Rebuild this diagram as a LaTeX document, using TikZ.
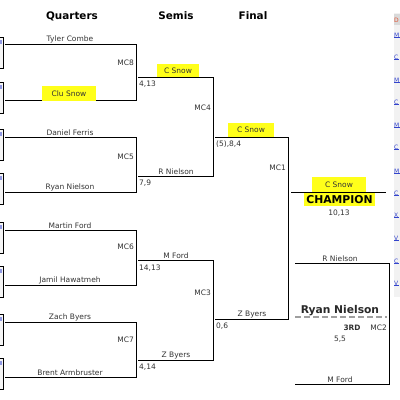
\documentclass[tikz,border=0pt]{standalone}
\usepackage{fontspec}
\setmainfont{DejaVu Sans}
\definecolor{txt}{HTML}{333333}
\definecolor{hl}{HTML}{FFFF1A}
\definecolor{lnk}{HTML}{3344CC}
\definecolor{redl}{HTML}{E05030}
\tikzset{
 ln/.style={line width=0.9pt, black, line join=miter},
 nm/.style={font=\fontsize{7.5}{8}\selectfont, text=txt, inner sep=1pt},
 mc/.style={font=\fontsize{7.5}{8}\selectfont, text=txt, inner sep=0pt, anchor=east},
 sc/.style={font=\fontsize{7.5}{8}\selectfont, text=txt, inner sep=0pt, anchor=west},
 hd/.style={font=\bfseries\fontsize{10.4}{12}\selectfont, text=black, inner sep=0pt},
 hlt/.style={fill=hl, inner sep=0pt},
 big/.style={font=\bfseries\fontsize{10.8}{12}\selectfont, text=black, inner sep=0pt},
 lk/.style={font=\fontsize{6}{7}\selectfont, text=lnk, inner sep=0pt, anchor=west},
 leftbox/.style={draw=black, line width=0.8pt, fill=gray!8},
}
\begin{document}
\begin{tikzpicture}[x=1pt,y=-1pt]
\clip (0,0) rectangle (400,400);
\fill[white] (0,0) rectangle (400,400);

% headings
\node[hd] (hq) at (72,16) {Quarters};
\node[hd] (hs) at (176,16) {Semis};
\node[hd] (hf) at (253,16) {Final};

% clipped boxes at left edge
\foreach \t in {37,82,129,173,222,266,314,358}{
  \draw[leftbox] (-6,\t) rectangle (3,\t+31);
  \fill[lnk!55] (0,\t+3) rectangle (2,\t+7);
}

% link column at right edge
\fill[gray!10] (393.5,13) rectangle (400,297);
\fill[gray!30] (393.5,14) rectangle (400,25);
\node[lk, text=redl] (l0) at (394,20) {D};
\foreach \y/\c [count=\k] in {35/M,57/C,80/M,102/C,125/M,147/C,171/M,193/C,215/X,238/V,261/C,283/V}{
  \node[lk] (lk\k) at (394,\y) {\c};
  \draw[lnk, line width=0.4pt] (lk\k.south west) -- (lk\k.south east);
}

% quarter lines
\foreach \i/\y in {1/44,2/100,3/137,4/192,5/230,6/285,7/322,8/377}{
  \coordinate (qa\i) at (5,\y);
  \coordinate (qb\i) at (136,\y);
}
\draw[ln] (qa1) -- (qb1) -- (qb2) -- (qa2);
\draw[ln] (qa3) -- (qb3) -- (qb4) -- (qa4);
\draw[ln] (qa5) -- (qb5) -- (qb6) -- (qa6);
\draw[ln] (qa7) -- (qb7) -- (qb8) -- (qa8);

\node[nm, anchor=south] (n1) at (70,44) {Tyler Combe};
\node[nm, hlt, minimum width=54pt, minimum height=15pt] (n2) at (69,93.5) {Clu Snow};
\node[nm, anchor=south] (n3) at (70,137) {Daniel Ferris};
\node[nm, anchor=south] (n4) at (70,192) {Ryan Nielson};
\node[nm, anchor=south] (n5) at (70,230) {Martin Ford};
\node[nm, anchor=south] (n6) at (70,285) {Jamil Hawatmeh};
\node[nm, anchor=south] (n7) at (70,322) {Zach Byers};
\node[nm, anchor=south] (n8) at (70,377) {Brent Armbruster};

\node[mc] (mc8) at (134,63) {MC8};
\node[mc] (mc5) at (134,157) {MC5};
\node[mc] (mc6) at (134,247) {MC6};
\node[mc] (mc7) at (134,340) {MC7};

% semis
\coordinate (sa1) at (138,77);  \coordinate (sb1) at (213,77);
\coordinate (sa2) at (138,176); \coordinate (sb2) at (213,176);
\coordinate (sa3) at (138,260); \coordinate (sb3) at (213,260);
\coordinate (sa4) at (138,360); \coordinate (sb4) at (213,360);
\draw[ln] (sa1) -- (sb1) -- (sb2) -- (sa2);
\draw[ln] (sa3) -- (sb3) -- (sb4) -- (sa4);

\node[nm, hlt, minimum width=42pt, minimum height=13pt] (s1) at (178,70.5) {C Snow};
\node[nm, anchor=south] (s2) at (176,176) {R Nielson};
\node[nm, anchor=south] (s3) at (176,260) {M Ford};
\node[nm, anchor=south] (s4) at (176,360) {Z Byers};

\node[sc] (c1) at (139,84) {4,13};
\node[sc] (c2) at (139,183) {7,9};
\node[sc] (c3) at (139,268) {14,13};
\node[sc] (c4) at (139,367) {4,14};

\node[mc] (mc4) at (211,108) {MC4};
\node[mc] (mc3) at (211,293) {MC3};

% final
\coordinate (fa1) at (215,137); \coordinate (fb1) at (288,137);
\coordinate (fa2) at (215,319); \coordinate (fb2) at (288,319);
\draw[ln] (fa1) -- (fb1) -- (fb2) -- (fa2);
\node[nm, hlt, minimum width=46pt, minimum height=14pt] (f1) at (251,130) {C Snow};
\node[nm, anchor=south] (f2) at (252,319) {Z Byers};
\node[sc] (c5) at (216,144.5) {(5),8,4};
\node[sc] (c6) at (216,326) {0,6};
\node[mc] (mc1) at (286,168) {MC1};

% champion
\coordinate (ca) at (291,192); \coordinate (cb) at (386,192);
\draw[ln] (ca) -- (cb);
\node[nm, hlt, minimum width=54pt, minimum height=15pt] (ch1) at (339,184.5) {C Snow};
\node[big, fill=hl, minimum width=71pt, minimum height=13pt] (champ) at (339.5,199.5) {CHAMPION};
\node[nm, inner sep=0pt] (c7) at (339,213) {10,13};

% third place
\coordinate (ta1) at (295,263); \coordinate (tb1) at (389,263);
\coordinate (ta2) at (295,384); \coordinate (tb2) at (389,384);
\draw[ln] (ta1) -- (tb1) -- (tb2) -- (ta2);
\node[nm, anchor=south] (t1) at (340,263) {R Nielson};
\node[nm, anchor=south] (t2) at (340,384) {M Ford};
\coordinate (da) at (295,317); \coordinate (db) at (387,317);
\draw[gray!75, line width=1.3pt, dash pattern=on 6pt off 3pt] (da) -- (db);
\node[big, font=\bfseries\fontsize{10.7}{12}\selectfont, text=txt!80!black] (third) at (340,311) {Ryan Nielson};
\node[nm, font=\bfseries\fontsize{7.4}{8}\selectfont, inner sep=0pt] (r3) at (352,328) {3RD};
\node[mc] (mc2) at (387,328) {MC2};
\node[nm, inner sep=0pt] (c8) at (340,339) {5,5};
\end{tikzpicture}
\end{document}
